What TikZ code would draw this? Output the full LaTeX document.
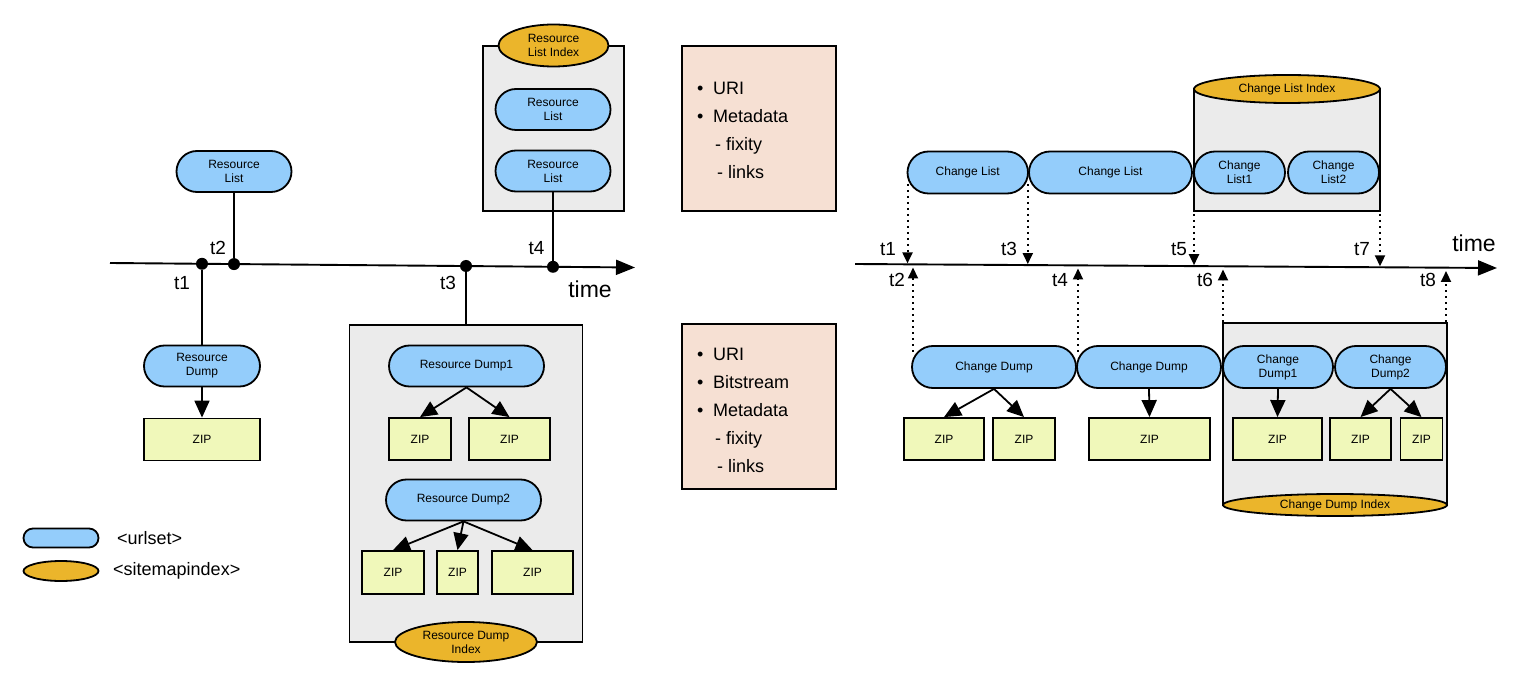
\documentclass[tikz,border=0pt]{standalone}
\usepackage{fontspec}
\setmainfont{Liberation Sans}
\usetikzlibrary{shapes.misc,shapes.geometric,arrows.meta}
\definecolor{pillblue}{HTML}{94CDFB}
\definecolor{idxorange}{HTML}{EBB52B}
\definecolor{boxgray}{HTML}{EBEBEB}
\definecolor{zipyellow}{HTML}{F0F8BA}
\definecolor{peach}{HTML}{F6E0D3}
\tikzset{
 pill/.style={rounded rectangle, draw, line width=1.8pt, fill=pillblue, minimum height=41pt, inner sep=0pt, align=center, font=\fontsize{12}{14}\selectfont},
 zip/.style={rectangle, draw, line width=1.8pt, fill=zipyellow, minimum height=42pt, inner sep=0pt, font=\fontsize{12}{14}\selectfont},
 idx/.style={ellipse, draw, line width=1.8pt, fill=idxorange, inner sep=0pt, align=center, font=\fontsize{12}{14}\selectfont},
 gbox/.style={rectangle, draw, line width=1.9pt, fill=boxgray, inner sep=0pt},
 pbox/.style={rectangle, draw, line width=1.9pt, fill=peach, inner sep=0pt, minimum width=154pt, minimum height=165pt},
 tdot/.style={circle, fill=black, inner sep=0pt, minimum size=12pt},
 tlabel/.style={font=\fontsize{19}{22}\selectfont, inner sep=0pt},
 timelabel/.style={font=\fontsize{23}{26}\selectfont, inner sep=0pt},
 ptext/.style={font=\fontsize{18}{22}\selectfont, anchor=base west, inner sep=0pt},
 legtext/.style={font=\fontsize{18}{22}\selectfont, anchor=west, inner sep=0pt},
 conn/.style={line width=2pt},
 arr/.style={line width=1.8pt, -{Triangle[length=17pt,width=15pt]}},
 axis/.style={line width=1.9pt, -{Triangle[length=19pt,width=15pt]}},
 dotarr/.style={line width=2pt, dash pattern=on 2pt off 4pt, -{Triangle[length=11pt,width=10pt]}},
}
\begin{document}
\begin{tikzpicture}[x=1pt,y=-1pt]
\useasboundingbox (0,0) rectangle (1528,684);

% ---------------- LEFT PART ----------------
\node[gbox, minimum width=141pt, minimum height=165pt] (RLbox) at (553.5,128.5) {};
\node[gbox, minimum width=233pt, minimum height=317pt] (RDbox) at (466,483.5) {};

\coordinate (L0) at (110,263);
\coordinate (L1) at (635,267.5);
\draw[axis] (L0) -- (L1);

\node[pill, minimum width=115pt] (RLa) at (234,171.5) {Resource\\List};
\node[pill, minimum width=116pt] (RD) at (202,366) {Resource\\Dump};
\node[zip, minimum width=116pt] (Z0) at (202,439.5) {ZIP};

\node[pill, minimum width=115pt] (RLb) at (553,109.5) {Resource\\List};
\node[pill, minimum width=115pt] (RLc) at (553,171) {Resource\\List};
\node[idx, minimum width=110pt, minimum height=42pt] (RLI) at (553.5,45.5) {Resource\\List Index};

\node[pill, minimum width=155pt] (RD1) at (466.5,366) {Resource Dump1};
\node[zip, minimum width=62pt] (Za) at (420,439) {ZIP};
\node[zip, minimum width=81pt] (Zb) at (509.5,439) {ZIP};
\node[pill, minimum width=155pt] (RD2) at (463.5,500) {Resource Dump2};
\node[zip, minimum width=62pt, minimum height=43pt] (Zc) at (393,572.5) {ZIP};
\node[zip, minimum width=41pt, minimum height=43pt] (Zd) at (457.5,572.5) {ZIP};
\node[zip, minimum width=81pt, minimum height=43pt] (Ze) at (532.5,572.5) {ZIP};
\node[idx, minimum width=142pt, minimum height=40pt] (RDI) at (466,642) {Resource Dump\\Index};

\node[tdot] (t1) at (202,263.8) {};
\node[tdot] (t2) at (234,264.1) {};
\node[tdot] (t3) at (466,266) {};
\node[tdot] (t4) at (553,266.8) {};

\draw[conn] (RLa.south) -- (t2);
\draw[conn] (t1) -- (RD.north);
\draw[conn] (t3) -- (RDbox.north);
\draw[conn] (t4) -- (RLc.south);
\draw[arr] (RD.south) -- (Z0.north);
\draw[arr] (RD1.south) -- (Za.north);
\draw[arr] (RD1.south) -- (Zb.north);
\draw[arr] (RD2.south) -- (Zc.north);
\draw[arr] (RD2.south) -- (Zd.north);
\draw[arr] (RD2.south) -- (Ze.north);

\node[tlabel] (lt1) at (182,283) {t1};
\node[tlabel] (lt2) at (218,248) {t2};
\node[tlabel] (lt3) at (448,283) {t3};
\node[tlabel] (lt4) at (536.5,248) {t4};
\node[timelabel] (ltime) at (590,289) {time};

% ---------------- PEACH BOXES ----------------
\node[pbox] (P1) at (759,128.5) {};
\node[ptext] (p1a) at (697,94.5) {\makebox[16pt][l]{\textbullet}URI};
\node[ptext] (p1b) at (697,122.5) {\makebox[16pt][l]{\textbullet}Metadata};
\node[ptext] (p1c) at (715,150.5) {\makebox[11pt][l]{-}fixity};
\node[ptext] (p1d) at (717,178.5) {\makebox[11pt][l]{-}links};

\node[pbox] (P2) at (759,406.5) {};
\node[ptext] (p2a) at (697,360.5) {\makebox[16pt][l]{\textbullet}URI};
\node[ptext] (p2b) at (697,388.5) {\makebox[16pt][l]{\textbullet}Bitstream};
\node[ptext] (p2c) at (697,416.5) {\makebox[16pt][l]{\textbullet}Metadata};
\node[ptext] (p2d) at (715,444.5) {\makebox[11pt][l]{-}fixity};
\node[ptext] (p2e) at (717,472.5) {\makebox[11pt][l]{-}links};

% ---------------- LEGEND ----------------
\node[rounded rectangle, draw, line width=1.8pt, fill=pillblue, minimum width=75pt, minimum height=19pt, inner sep=0pt] (lg1) at (61,538) {};
\node[legtext] (lg1t) at (117,538) {\textless urlset\textgreater};
\node[ellipse, draw, line width=1.8pt, fill=idxorange, minimum width=75pt, minimum height=20pt, inner sep=0pt] (lg2) at (61,571) {};
\node[legtext] (lg2t) at (113,571) {\textless sitemapindex\textgreater};

% ---------------- RIGHT PART ----------------
\node[gbox, minimum width=186pt, minimum height=122pt] (CLbox) at (1287,150) {};
\node[gbox, minimum width=224pt, minimum height=182pt] (CDbox) at (1335,414) {};

\node[pill, minimum width=120.5pt, minimum height=42pt] (CL1) at (967.75,172.5) {Change List};
\node[pill, minimum width=163pt, minimum height=42pt] (CL2) at (1110.5,172.5) {Change List};
\node[pill, minimum width=91pt, minimum height=42pt] (CL3) at (1239.5,172.5) {Change\\List1};
\node[pill, minimum width=91pt, minimum height=42pt] (CL4) at (1333.5,172.5) {Change\\List2};
\node[idx, minimum width=186pt, minimum height=28pt] (CLI) at (1287,89) {Change List Index};

\node[pill, minimum width=164pt, minimum height=42pt] (CD1) at (994,367) {Change Dump};
\node[pill, minimum width=144pt, minimum height=42pt] (CD2) at (1149,367) {Change Dump};
\node[pill, minimum width=110pt, minimum height=42pt] (CD3) at (1278,367) {Change\\Dump1};
\node[pill, minimum width=111pt, minimum height=42pt] (CD4) at (1390.5,367) {Change\\Dump2};
\node[zip, minimum width=80pt] (Z1) at (944,439) {ZIP};
\node[zip, minimum width=62pt] (Z2) at (1024,439) {ZIP};
\node[zip, minimum width=121pt] (Z3) at (1149.5,439) {ZIP};
\node[zip, minimum width=89pt] (Z4) at (1277.5,439) {ZIP};
\node[zip, minimum width=61pt] (Z5) at (1360.5,439) {ZIP};
\node[zip, minimum width=42pt] (Z6) at (1421.5,439) {ZIP};
\node[idx, minimum width=224pt, minimum height=22pt] (CDI) at (1335,505) {Change Dump Index};

\draw[arr] (CD1.south) -- (Z1.north);
\draw[arr] (CD1.south) -- (Z2.north);
\draw[arr] (CD2.south) -- (Z3.north);
\draw[arr] (CD3.south) -- (Z4.north);
\draw[arr] (CD4.south) -- (Z5.north);
\draw[arr] (CD4.south) -- (Z6.north);

\coordinate (R0) at (855,264);
\coordinate (R1) at (1497,268);
\draw[axis] (R0) -- (R1);

\coordinate (a1s) at (907.5,184);  \coordinate (a1e) at (907.5,263.4);
\coordinate (a3s) at (1027.8,184); \coordinate (a3e) at (1027.8,264.1);
\coordinate (a5s) at (1194,214);   \coordinate (a5e) at (1194,265.2);
\coordinate (a7s) at (1380,214);   \coordinate (a7e) at (1380,266.3);
\draw[dotarr] (a1s) -- (a1e);
\draw[dotarr] (a3s) -- (a3e);
\draw[dotarr] (a5s) -- (a5e);
\draw[dotarr] (a7s) -- (a7e);

\coordinate (b2s) at (913,352);  \coordinate (b2e) at (913,267.5);
\coordinate (b4s) at (1078,352); \coordinate (b4e) at (1078,268.5);
\coordinate (b6s) at (1223,322); \coordinate (b6e) at (1223,269.5);
\coordinate (b8s) at (1446,322); \coordinate (b8e) at (1446,271);
\draw[dotarr] (b2s) -- (b2e);
\draw[dotarr] (b4s) -- (b4e);
\draw[dotarr] (b6s) -- (b6e);
\draw[dotarr] (b8s) -- (b8e);

\node[tlabel] (rt1) at (888,249) {t1};
\node[tlabel] (rt3) at (1009,249) {t3};
\node[tlabel] (rt5) at (1179,249) {t5};
\node[tlabel] (rt7) at (1362,249) {t7};
\node[tlabel] (rt2) at (897,280) {t2};
\node[tlabel] (rt4) at (1060,280) {t4};
\node[tlabel] (rt6) at (1205,280) {t6};
\node[tlabel] (rt8) at (1428,280) {t8};
\node[timelabel] (rtime) at (1474,243) {time};
\end{tikzpicture}
\end{document}
